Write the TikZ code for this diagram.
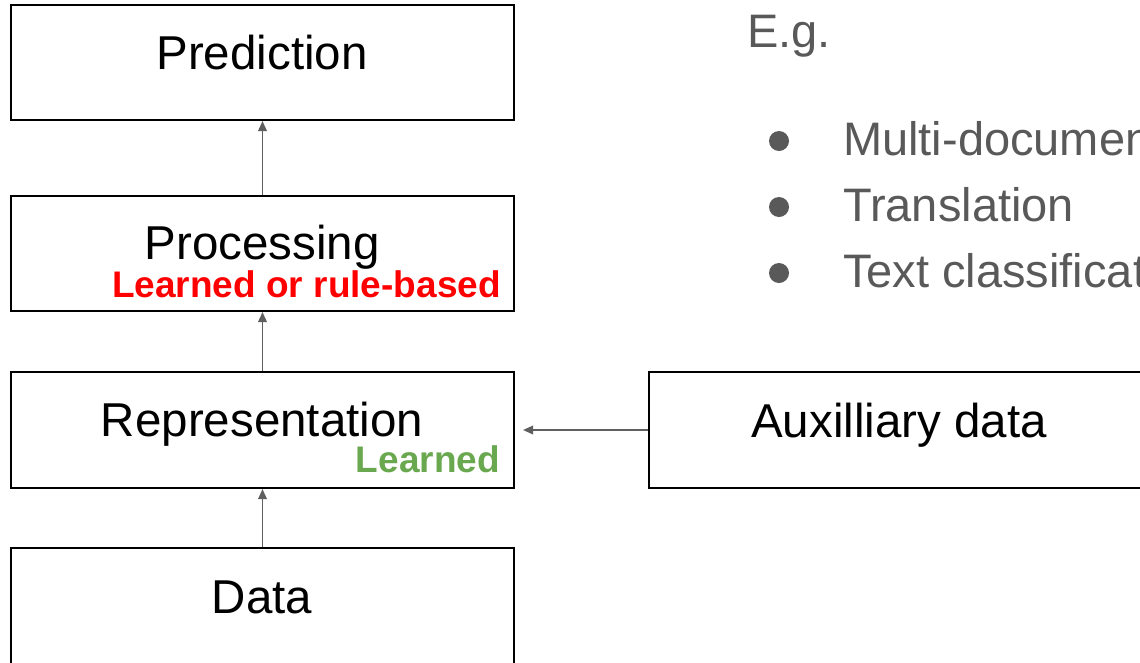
\documentclass[tikz,border=0pt]{standalone}
\usepackage{fontspec}
\setmainfont{Liberation Sans}
\usetikzlibrary{arrows.meta}
\definecolor{txtgray}{HTML}{595959}
\definecolor{arrgray}{HTML}{5F5F5F}
\definecolor{lgreen}{HTML}{6AA84F}
\definecolor{lred}{HTML}{FF0000}
\begin{document}
\begin{tikzpicture}[x=1pt,y=-1pt,
  boxnode/.style={draw=black,line width=2pt,rectangle,inner sep=0pt},
  bigtext/.style={inner sep=0pt,anchor=base,font=\fontsize{47.5}{56}\selectfont},
  tagtext/.style={inner sep=0pt,anchor=base east,font=\fontsize{37}{44}\selectfont\bfseries},
  listtext/.style={inner sep=0pt,anchor=base west,text=txtgray,font=\fontsize{47}{56}\selectfont},
  conn/.style={draw=arrgray,line width=1.8pt,-{Triangle[length=10pt,width=8.5pt]}}]
\useasboundingbox (0,0) rectangle (1140,662);
\clip (0,0) rectangle (1140,662);
% boxes
\node[boxnode,minimum width=503pt,minimum height=115pt] (pred) at (262.5,62.5) {};
\node[boxnode,minimum width=503pt,minimum height=115pt] (proc) at (262.5,253.5) {};
\node[boxnode,minimum width=503pt,minimum height=116pt] (rep) at (262.5,430) {};
\node[boxnode,minimum width=503pt,minimum height=116pt] (data) at (262.5,606) {};
\node[boxnode,minimum width=500pt,minimum height=116pt] (aux) at (899,430) {};
% texts
\node[bigtext] (tpred) at (262,69.5) {Prediction};
\node[bigtext] (tproc) at (262,259.5) {Processing};
\node[tagtext,text=lred] (tproctag) at (501,297) {Learned or rule-based};
\node[bigtext] (trep) at (262,436) {Representation};
\node[tagtext,text=lgreen] (treptag) at (500,472) {Learned};
\node[bigtext] (tdata) at (262,613) {Data};
\node[bigtext] (taux) at (899,437) {Auxilliary data};
% right list
\node[listtext] (teg) at (747,47.5) {E.g.};
\fill[txtgray] (779,141) circle (10pt);
\fill[txtgray] (779,207) circle (10pt);
\fill[txtgray] (779,273) circle (10pt);
\node[listtext] (l1) at (843,155) {Multi-document};
\node[listtext] (l2) at (843,221) {Translation};
\node[listtext] (l3) at (843,287) {Text classification};
% connectors
\draw[conn] (proc.north) -- (pred.south);
\draw[conn] (rep.north) -- (proc.south);
\draw[conn] (data.north) -- (rep.south);
\draw[conn,shorten >=8pt] (aux.west) -- (rep.east);
\end{tikzpicture}
\end{document}
